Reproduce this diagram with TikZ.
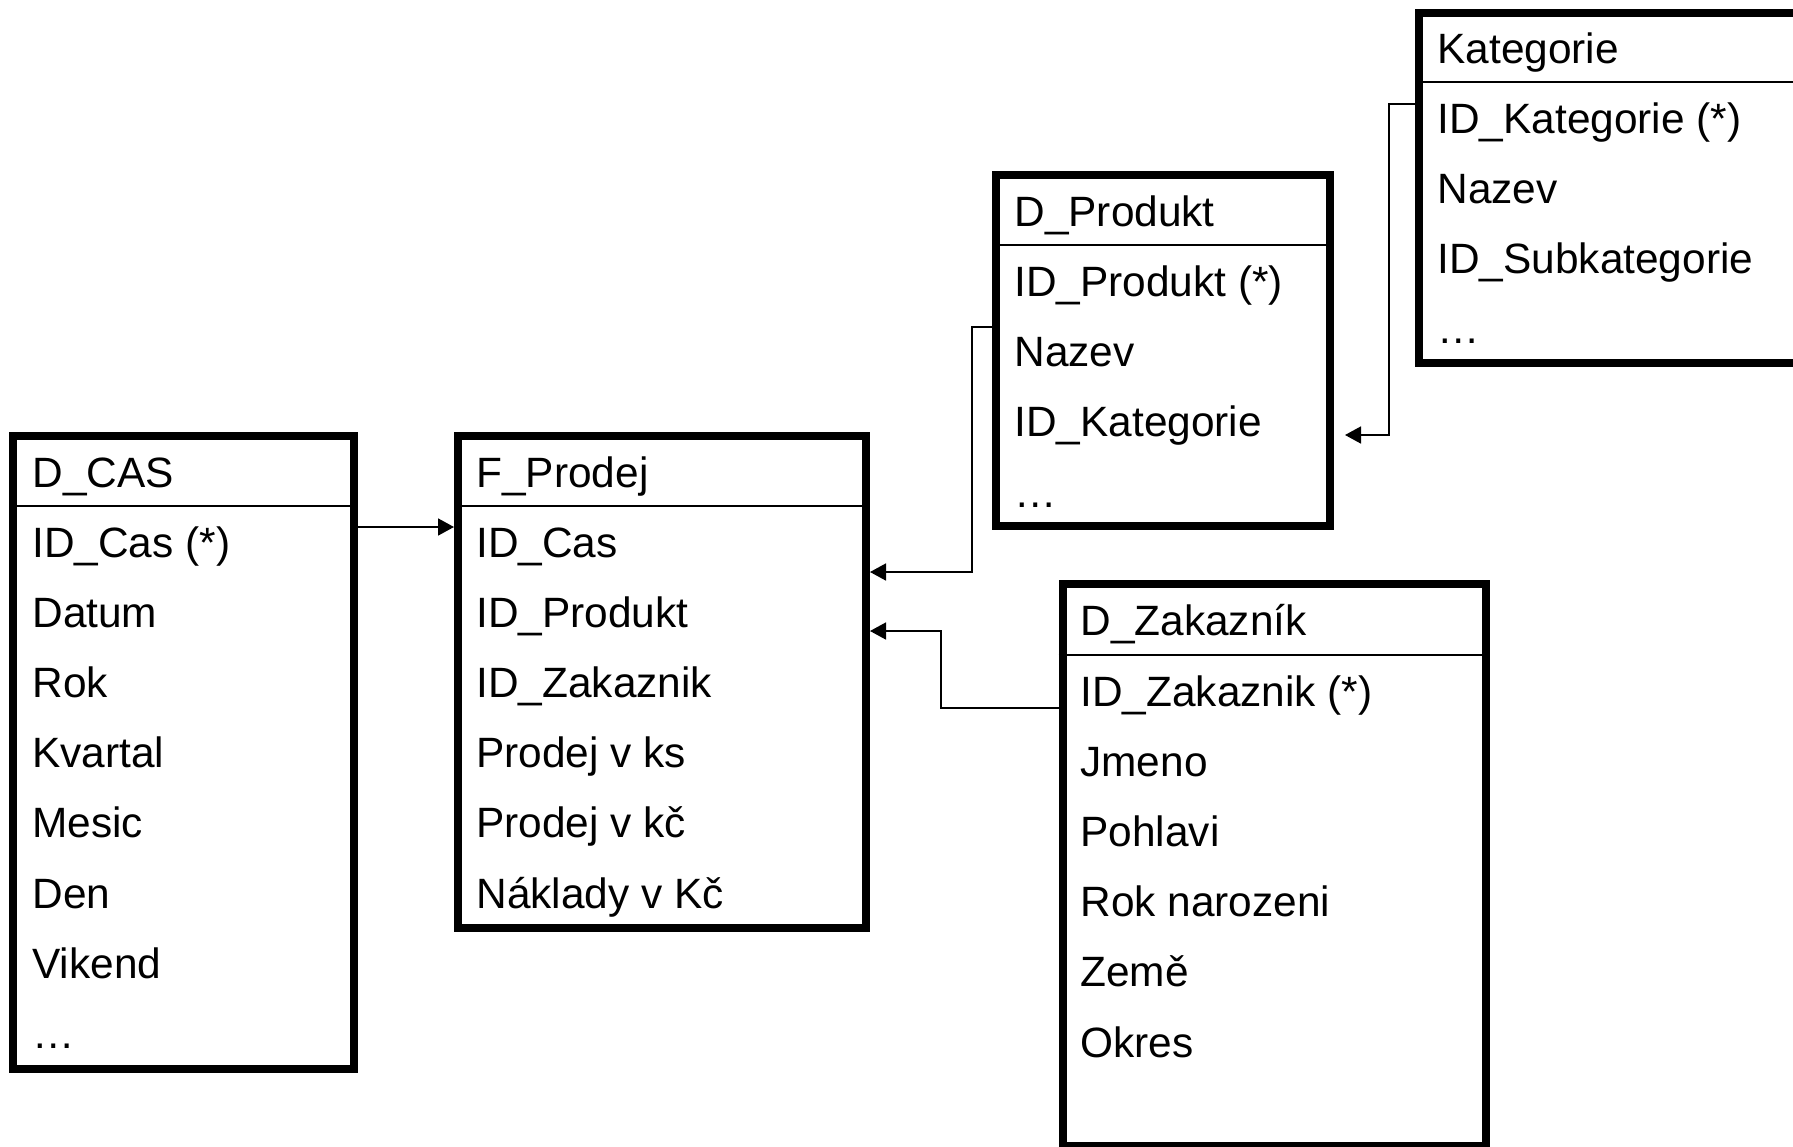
\documentclass[tikz,border=0pt]{standalone}
\usepackage{fontspec}
\setmainfont{Liberation Sans}
\usetikzlibrary{arrows.meta,fit}
\begin{document}
\begin{tikzpicture}[x=0.5pt,y=-0.5pt,
  tbl/.style={draw, line width=4pt, inner sep=0pt},
  sepline/.style={line width=0.9pt},
  fld/.style={anchor=base west, inner sep=0pt, font=\fontsize{21.2pt}{25pt}\selectfont},
  conn/.style={line width=0.85pt, -{Triangle[length=8pt,width=8.5pt]}}]
\useasboundingbox (0,0) rectangle (1793,1146);
\fill[white] (0,0) rectangle (1793,1146);

% table frames
\node[tbl, fit={(13,436) (354,1069)}] (dcas) {};
\node[tbl, fit={(458,436) (866,927.5)}] (fprod) {};
\node[tbl, fit={(996,174.5) (1330,526)}] (dprod) {};
\node[tbl, fit={(1419,12.5) (1840,363)}] (kat) {};
\node[tbl, fit={(1062.5,584) (1486,1146)}] (dzak) {};

% header separators
\draw[sepline] (dcas.west |- 0,506) -- (dcas.east |- 0,506);
\draw[sepline] (fprod.west |- 0,506) -- (fprod.east |- 0,506);
\draw[sepline] (dprod.west |- 0,245) -- (dprod.east |- 0,245);
\draw[sepline] (kat.west |- 0,82) -- (kat.east |- 0,82);
\draw[sepline] (dzak.west |- 0,655) -- (dzak.east |- 0,655);

% D_CAS
\node[fld] (dcas-t) at (32,487) {D\_CAS};
\foreach \t [count=\i] in {ID\_Cas (*), Datum, Rok, Kvartal, Mesic, Den, Vikend, …}
  \node[fld] (dcas-\i) at (32,{557+70.2*(\i-1)}) {\t};

% F_Prodej
\node[fld] (fprod-t) at (476,487) {F\_Prodej};
\foreach \t [count=\i] in {ID\_Cas, ID\_Produkt, ID\_Zakaznik, Prodej v ks, Prodej v kč, Náklady v Kč}
  \node[fld] (fprod-\i) at (476,{557+70.2*(\i-1)}) {\t};

% D_Produkt
\node[fld] (dprod-t) at (1014,226) {D\_Produkt};
\foreach \t [count=\i] in {ID\_Produkt (*), Nazev, ID\_Kategorie, …}
  \node[fld] (dprod-\i) at (1014,{296.5+70.2*(\i-1)}) {\t};

% Kategorie
\node[fld] (kat-t) at (1437,63) {Kategorie};
\foreach \t [count=\i] in {ID\_Kategorie (*), Nazev, ID\_Subkategorie, …}
  \node[fld] (kat-\i) at (1437,{133+70.2*(\i-1)}) {\t};

% D_Zakazník
\node[fld] (dzak-t) at (1080,635) {D\_Zakazník};
\foreach \t [count=\i] in {ID\_Zakaznik (*), Jmeno, Pohlavi, Rok narozeni, Země, Okres}
  \node[fld] (dzak-\i) at (1080,{706+70.2*(\i-1)}) {\t};

% connector bends
\coordinate (ycas) at (0,527);
\coordinate (pbend) at (972,327);
\coordinate (pdrop) at (972,572);
\coordinate (zbend) at (941,708);
\coordinate (zrise) at (941,631);
\coordinate (kbend) at (1389,104);
\coordinate (kdrop) at (1389,435);
\coordinate (ktip) at (1345,435);

% connectors
\draw[conn] (dcas.east |- ycas) -- (fprod.west |- ycas);
\draw[conn] (dprod.west |- pbend) -- (pbend) -- (pdrop) -- (fprod.east |- pdrop);
\draw[conn] (dzak.west |- zbend) -- (zbend) -- (zrise) -- (fprod.east |- zrise);
\draw[conn] (kat.west |- kbend) -- (kbend) -- (kdrop) -- (ktip);
\end{tikzpicture}
\end{document}
